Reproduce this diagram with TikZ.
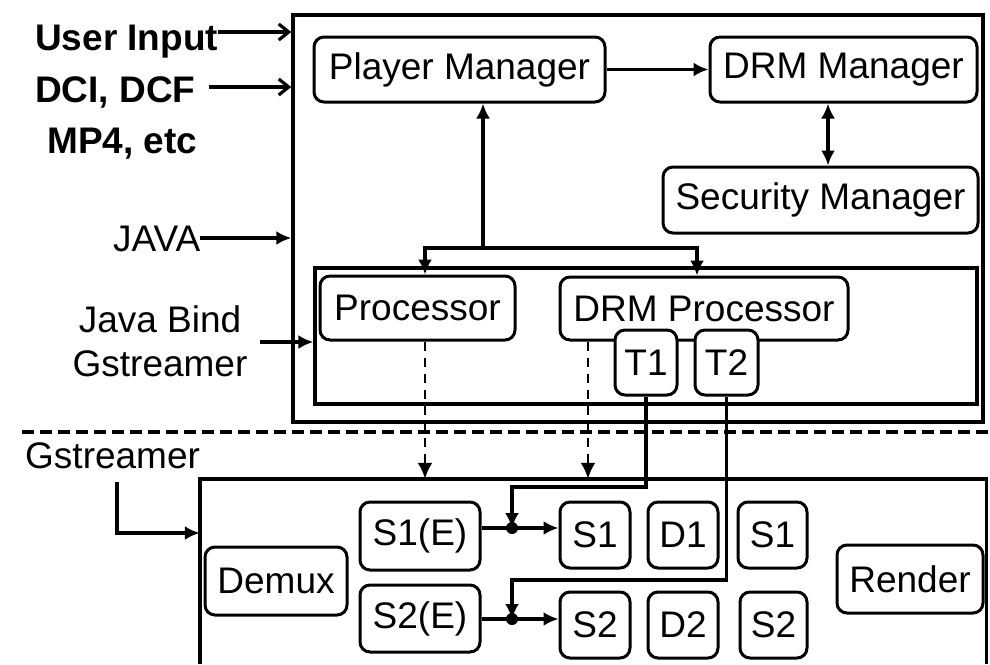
\documentclass[tikz,border=0pt]{standalone}
\usepackage{fontspec}
\setmainfont{Liberation Sans}
\usetikzlibrary{arrows.meta}
\begin{document}
\begin{tikzpicture}[x=1pt,y=-1pt,
  txt/.style={font=\fontsize{37pt}{44pt}\selectfont, inner sep=0pt},
  boldtxt/.style={font=\fontsize{37pt}{44pt}\selectfont\bfseries, inner sep=0pt},
  box/.style={txt, draw, line width=3pt, rounded corners=10pt, fill=white},
  frame/.style={draw, line width=3.4pt, inner sep=0pt},
  wire/.style={line width=3.2pt},
  arr/.style={wire, -{Latex[length=15pt,width=14pt]}},
  barb/.style={wire, -{Straight Barb[length=10pt,width=16pt]}},
  darr/.style={line width=2.6pt, dash pattern=on 9pt off 7pt, -{Latex[length=16pt,width=15pt]}},
  sepline/.style={line width=3.2pt, dash pattern=on 12pt off 6pt},
]
\useasboundingbox (0,0) rectangle (990,664);

% Java side frame and binding frame
\node[frame, minimum width=690pt, minimum height=407pt] (java) at (638,218.5) {};
\node[frame, line width=3.2pt, minimum width=662pt, minimum height=136pt] (bind) at (646,336) {};

% GStreamer frame (open at the bottom)
\node[inner sep=0pt, minimum width=786pt, minimum height=185pt] (gst) at (593,571.5) {};
\draw[line width=3.4pt] (gst.south west) -- (gst.north west) -- (gst.north east) -- (gst.south east);

% separator between layers
\draw[sepline] (22,432) -- (990,432);

% managers
\node[box, minimum width=291pt, minimum height=65pt] (pm) at (459.5,69.5) {Player Manager};
\node[box, minimum width=267pt, minimum height=65pt] (drmm) at (843.5,69.5) {DRM Manager};
\node[box, minimum width=315pt, minimum height=66pt] (sec) at (820.5,200) {Security Manager};

% processors
\node[box, minimum width=195pt, minimum height=64pt] (proc) at (417.5,308) {Processor};
\node[box, minimum width=288pt, minimum height=63pt] (drmp) at (704,308.5) {DRM Processor};
\node[box, minimum width=62pt, minimum height=65pt] (t1) at (646,362.5) {T1};
\node[box, minimum width=63pt, minimum height=65pt] (t2) at (726.5,362.5) {T2};

% pipeline elements
\node[box, minimum width=142pt, minimum height=68pt] (demux) at (276,581) {Demux};
\node[box, minimum width=120pt, minimum height=68pt] (s1e) at (420,536) {S1(E)};
\node[box, minimum width=120pt, minimum height=67pt] (s2e) at (420,618.5) {S2(E)};
\node[box, minimum width=70pt, minimum height=66pt] (s1) at (595,535) {S1};
\node[box, minimum width=70pt, minimum height=66pt] (d1) at (683,535) {D1};
\node[box, minimum width=69pt, minimum height=66pt] (s1b) at (772.5,535) {S1};
\node[box, minimum width=70pt, minimum height=66pt] (s2) at (595,625) {S2};
\node[box, minimum width=70pt, minimum height=66pt] (d2) at (683,625) {D2};
\node[box, minimum width=67pt, minimum height=66pt] (s2b) at (773.5,625) {S2};
\node[box, minimum width=146pt, minimum height=68pt] (render) at (910,579) {Render};

% side labels
\node[boldtxt, anchor=base west] (ui) at (35,50) {User Input};
\node[boldtxt, anchor=base west] (dci) at (35,102) {DCI, DCF};
\node[boldtxt, anchor=base west] (mp4) at (47,153) {MP4, etc};
\node[txt, anchor=base west] (jv) at (113,251) {JAVA};
\node[txt, align=center] (jb) at (160,341.5) {Java Bind\\Gstreamer};
\node[txt, anchor=base west] (gsl) at (25,468) {Gstreamer};

% inputs
\draw[barb] (ui.east |- 0,32) -- (java.west |- 0,32);
\draw[barb] (dci.east |- 0,87) ++(13,0) -- (java.west |- 0,87);
\draw[arr] (jv.east |- 0,238) -- (java.west |- 0,238);
\draw[arr] (jb.east |- 0,342) ++(12,0) -- (bind.west |- 0,342);

% manager links
\draw[arr] (pm.east) -- (drmm.west);
\draw[wire, {Latex[length=15pt,width=14pt]}-{Latex[length=15pt,width=14pt]}]
  (drmm.south -| 828,0) -- (sec.north -| 828,0);

% player manager fork to processors
\coordinate (fork) at (483,248);
\coordinate (forkl) at (425,248);
\coordinate (forkr) at (697,248);
\draw[arr] (fork) -- (pm.south -| fork);
\draw[arr] (fork) -| (proc.north -| forkl);
\draw[arr] (fork) -| (drmp.north -| forkr);

% processors into the pipeline
\draw[darr] (proc.south -| 425,0) -- (gst.north -| 425,0);
\draw[darr] (drmp.south -| 588,0) -- (gst.north -| 588,0);

% track lines into the streams
\coordinate (j1) at (512,528);
\coordinate (j2) at (512,619);
\draw[arr] (t1.south) -- (t1.south |- 0,487) -| (j1);
\draw[arr] (t2.south) -- (t2.south |- 0,580) -| (j2);
\draw[arr] (s1e.east |- j1) -- (s1.west |- j1);
\draw[arr] (s2e.east |- j2) -- (s2.west |- j2);
\fill (j1) circle (6pt);
\fill (j2) circle (6pt);

% gstreamer entry
\coordinate (gsin) at (117,482);
\draw[arr] (gsin) |- (gst.west |- 0,533);
\end{tikzpicture}
\end{document}
